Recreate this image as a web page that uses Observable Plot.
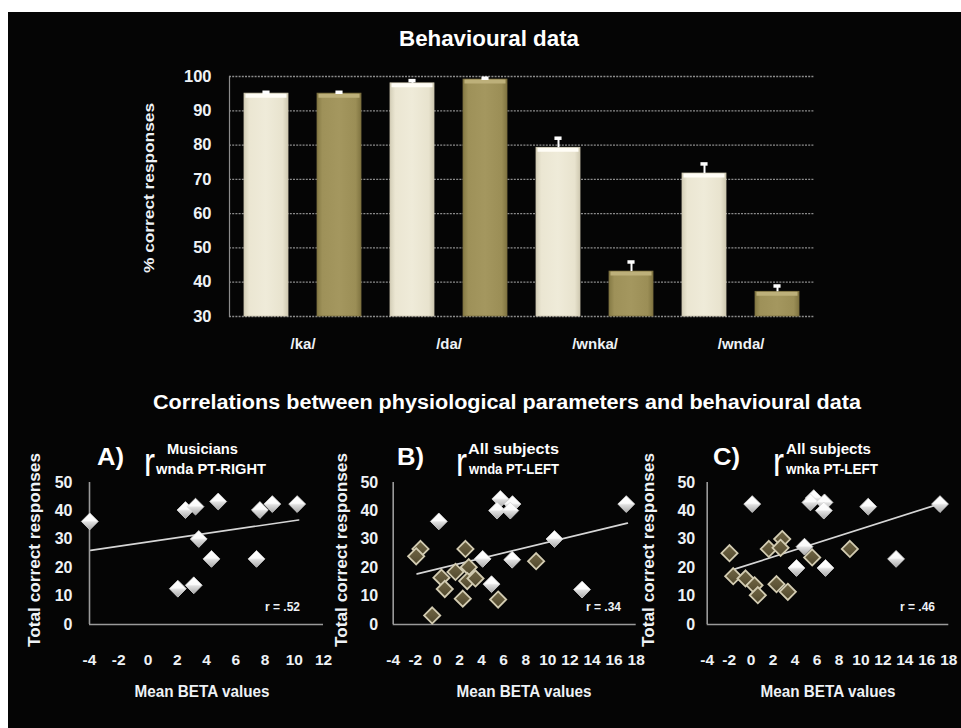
<!DOCTYPE html>
<html><head><meta charset="utf-8">
<script src="https://cdn.jsdelivr.net/npm/d3@7"></script>
<script src="https://cdn.jsdelivr.net/npm/@observablehq/plot@0.6"></script>
<style>
html,body{margin:0;padding:0;background:#fff;}
#wrap{position:relative;width:961px;height:728px;overflow:hidden;background:#fff;}
#bg{position:absolute;left:8px;top:12px;right:0;bottom:0;background:#050505;}
.panel{position:absolute;}
.panel svg{overflow:visible;}
#overlay{position:absolute;left:0;top:0;pointer-events:none;}
</style></head><body><div id="wrap"><div id="bg"></div></div>
<script>
// ---------- data ----------
const syllables = ["/ka/", "/da/", "/wnka/", "/wnda/"];
const groups = ["Musicians", "Non-musicians"];
const musiciansPct = [95.0, 98.0, 79.2, 71.7];
const musiciansErr = [0.4, 0.8, 2.8, 2.8];
const nonMusiciansPct = [95.0, 99.1, 43.1, 37.2];
const nonMusiciansErr = [0.4, 0.4, 2.8, 1.7];
const pctTicks = [30, 40, 50, 60, 70, 80, 90, 100];

const countTicks = [0, 10, 20, 30, 40, 50];
const betaTicksA = [-4, -2, 0, 2, 4, 6, 8, 10, 12];
const betaTicksBC = [-4, -2, 0, 2, 4, 6, 8, 10, 12, 14, 16, 18];

// Panel A: musicians, r wnda PT-RIGHT
const aMusX = [-3.98, 2.56, 3.25, 4.8, 3.47, 4.34, 2.04, 3.13, 7.42, 7.65, 8.5, 10.2];
const aMusY = [36.3, 40.3, 41.5, 43.3, 30.1, 23.1, 12.6, 13.8, 23.1, 40.3, 42.4, 42.4];
const aLineX = [-3.93, 10.3];
const aLineY = [26.1, 36.8];

// Panel B: all subjects, r wnda PT-LEFT
const bMusX = [0.13, 5.7, 5.4, 6.8, 6.6, 17.1, 10.6, 4.1, 6.77, 4.9, 13.1];
const bMusY = [36.3, 44.2, 40.1, 42.4, 40.1, 42.4, 30.1, 23.1, 22.8, 14.2, 12.3];
const bNonX = [-1.53, -1.92, 2.54, 2.84, 1.64, 0.37, 0.67, 2.7, 3.45, 2.3, 5.5, -0.47, 8.94];
const bNonY = [26.6, 24.0, 26.6, 20.2, 18.5, 16.5, 12.5, 15.3, 16.2, 9.1, 8.8, 3.2, 22.3];
const bLineX = [-1.83, 17.2];
const bLineY = [17.8, 35.7];

// Panel C: all subjects, r wnka PT-LEFT
const cMusX = [0.1, 5.7, 5.4, 6.68, 6.62, 10.66, 17.2, 4.86, 4.13, 6.77, 13.2];
const cMusY = [42.4, 44.5, 43.0, 43.0, 40.1, 41.5, 42.4, 27.4, 19.9, 19.9, 23.1];
const cNonX = [-1.97, 1.61, 2.83, 2.68, 5.56, 8.99, -1.63, -0.51, 0.31, 0.61, 2.31, 3.34];
const cNonY = [25.1, 26.6, 30.1, 27.0, 23.6, 26.6, 17.0, 16.2, 13.8, 10.3, 14.2, 11.5];
const cLineX = [-1.58, 17.1];
const cLineY = [19.4, 42.4];

// ---------- styles ----------
const FONT = '"Liberation Sans", Arial, sans-serif';
const TXT = "#eef2f6";
const wrap = document.getElementById("wrap");
const fmt = d => String(d); // plain hyphen-minus like the reference

function place(node, left, top) {
  const d = document.createElement("div");
  d.className = "panel";
  d.style.left = left + "px";
  d.style.top = top + "px";
  d.appendChild(node);
  wrap.appendChild(d);
}

// ---------- bar chart ----------
const bars = syllables.flatMap((s, i) => [
  {key: s + "|M", syl: s, grp: groups[0], v: musiciansPct[i], e: musiciansErr[i]},
  {key: s + "|N", syl: s, grp: groups[1], v: nonMusiciansPct[i], e: nonMusiciansErr[i]}
]);
const B = {left: 130, top: 60, width: 720, height: 310, ml: 99, mr: 36, mt: 16, mb: 54};
const step = (B.width - B.ml - B.mr) / bars.length;
const bw = step * 0.6;
const isM = d => d.grp === groups[0];
const isN = d => d.grp === groups[1];

const barPlot = Plot.plot({
  width: B.width, height: B.height,
  marginLeft: B.ml, marginRight: B.mr, marginTop: B.mt, marginBottom: B.mb,
  style: {background: "transparent", color: TXT, fontFamily: FONT},
  x: {domain: bars.map(d => d.key), paddingInner: 0.4, paddingOuter: 0.2},
  y: {domain: [pctTicks[0], pctTicks[pctTicks.length - 1]]},
  marks: [
    Plot.gridY(pctTicks, {stroke: "#8c8c8c", strokeOpacity: 1, strokeDasharray: "2,1.2", strokeWidth: 1.3}),
    Plot.frame({anchor: "left", stroke: "#8c8c8c", strokeWidth: 1.2}),
    Plot.axisY({ticks: pctTicks, tickFormat: fmt, tickSize: 0, tickPadding: 18, fontSize: 16.5, fontWeight: "bold", label: null}),
    Plot.axisX({ticks: bars.filter(isM).map(d => d.key), tickFormat: d => d.split("|")[0],
      dx: step / 2, tickSize: 0, tickPadding: 22, fontSize: 15, fontWeight: "bold", label: null}),
    Plot.barY(bars, {filter: isM, x: "key", y1: pctTicks[0], y2: "v", fill: "url(#gBarLight)", stroke: "#cfc9b2", strokeWidth: 0.8}),
    Plot.barY(bars, {filter: isN, x: "key", y1: pctTicks[0], y2: "v", fill: "url(#gBarDark)", stroke: "#7d7140", strokeWidth: 0.8}),
    Plot.tickY(bars, {filter: isM, x: "key", y: "v", stroke: "#fffdf6", strokeWidth: 4, dy: 2, insetLeft: 1.5, insetRight: 1.5}),
    Plot.tickY(bars, {filter: isN, x: "key", y: "v", stroke: "#bdb07a", strokeWidth: 4, dy: 2, insetLeft: 1.5, insetRight: 1.5}),
    Plot.ruleX(bars, {x: "key", y1: "v", y2: d => d.v + d.e, stroke: "#ffffff", strokeWidth: 2}),
    Plot.tickY(bars, {x: "key", y: d => d.v + d.e, stroke: "#ffffff", strokeWidth: 3.5,
      insetLeft: bw / 2 - 3.5, insetRight: bw / 2 - 3.5})
  ]
});
place(barPlot, B.left, B.top);

// ---------- scatter panels ----------
function pts(xs, ys) { return xs.map((x, i) => ({x, y: ys[i]})); }

function scatter(cfg) {
  const marks = [
    Plot.line(pts(cfg.lineX, cfg.lineY), {x: "x", y: "y", stroke: "#d6d6d6", strokeWidth: 1.7}),
    Plot.ruleY([countTicks[0]], {stroke: "#9a9a9a", strokeWidth: 1.6}),
    Plot.ruleX([cfg.xTicks[0]], {stroke: "#9a9a9a", strokeWidth: 1.6}),
    Plot.axisY({ticks: countTicks, tickFormat: fmt, tickSize: 0, tickPadding: cfg.yPad, fontSize: 16, fontWeight: "bold", label: null}),
    Plot.axisX({ticks: cfg.xTicks, tickFormat: fmt, tickSize: 0, tickPadding: 29, fontSize: 15.5, fontWeight: "bold", label: null})
  ];
  if (cfg.nonX) marks.push(Plot.dot(pts(cfg.nonX, cfg.nonY), {x: "x", y: "y", symbol: "diamond2", r: 7.3,
    fill: "url(#gDark)", stroke: "#d3ccb2", strokeWidth: 1.8}));
  marks.push(Plot.dot(pts(cfg.musX, cfg.musY), {x: "x", y: "y", symbol: "diamond2", r: 7.6,
    fill: "url(#gWhite)", stroke: "#d9d9d9", strokeWidth: 0.8}));
  return Plot.plot({
    width: cfg.width, height: 290,
    marginLeft: cfg.ml, marginRight: cfg.mr, marginTop: 52, marginBottom: 96,
    style: {background: "transparent", color: TXT, fontFamily: FONT},
    x: {domain: [cfg.xTicks[0], cfg.xTicks[cfg.xTicks.length - 1]]},
    y: {domain: [countTicks[0], countTicks[countTicks.length - 1]]},
    marks
  });
}
place(scatter({width: 330, ml: 89, mr: 7, yPad: 17, xTicks: betaTicksA,
  musX: aMusX, musY: aMusY, lineX: aLineX, lineY: aLineY}), 0, 430);
place(scatter({width: 330, ml: 82.7, mr: 4.3, yPad: 15, xTicks: betaTicksBC,
  musX: bMusX, musY: bMusY, nonX: bNonX, nonY: bNonY, lineX: bLineX, lineY: bLineY}), 310, 430);
place(scatter({width: 341, ml: 86.7, mr: 12.7, yPad: 12, xTicks: betaTicksBC,
  musX: cMusX, musY: cMusY, nonX: cNonX, nonY: cNonY, lineX: cLineX, lineY: cLineY}), 620, 430);

// ---------- overlay: gradients + titles ----------
const ov = d3.select(wrap).append("svg").attr("id", "overlay").attr("width", 961).attr("height", 728);
const defs = ov.append("defs");
function grad(id, vertical, stops) {
  const g = defs.append("linearGradient").attr("id", id)
    .attr("x1", 0).attr("y1", 0).attr("x2", vertical ? 0 : 1).attr("y2", vertical ? 1 : 0);
  stops.forEach(([o, c]) => g.append("stop").attr("offset", o).attr("stop-color", c));
}
grad("gBarLight", false, [[0, "#d4cfb8"], [0.12, "#ebe6d2"], [0.5, "#efebd9"], [0.88, "#e8e3ce"], [1, "#cfc9b1"]]);
grad("gBarDark", false, [[0, "#857a45"], [0.12, "#9e9159"], [0.5, "#a4975f"], [0.88, "#9b8e56"], [1, "#807441"]]);
grad("gWhite", true, [[0, "#ffffff"], [0.45, "#fbfbfb"], [0.55, "#dedede"], [1, "#a8a8a8"]]);
grad("gDark", true, [[0, "#6e6443"], [0.5, "#62583a"], [1, "#4f472d"]]);

function txt(o) {
  const t = ov.append("text")
    .attr("x", o.x).attr("y", o.y)
    .attr("fill", o.fill || "#ffffff")
    .attr("font-family", FONT)
    .attr("font-size", o.size)
    .attr("font-weight", o.weight || "bold")
    .attr("text-anchor", o.anchor || "start")
    .text(o.text);
  if (o.len) t.attr("textLength", o.len).attr("lengthAdjust", "spacingAndGlyphs");
  if (o.rotate) t.attr("transform", `rotate(${o.rotate},${o.x},${o.y})`).attr("dominant-baseline", "central");
  return t;
}

txt({x: 489, y: 46, text: "Behavioural data", size: 22, anchor: "middle", len: 180});
txt({x: 507, y: 409, text: "Correlations between physiological parameters and behavioural data", size: 20, anchor: "middle", len: 708});
txt({x: 148, y: 188, text: "% correct responses", size: 15, anchor: "middle", len: 170, rotate: -90, fill: TXT});

const panels = [
  {letter: "A)", lx: 97, sup: "Musicians", supX: 167, supLen: 71, rX: 144, sub: "wnda PT-RIGHT", subX: 156, subLen: 110, yTitleX: 34, axisCx: 202, rText: "r = .52", rRight: 300},
  {letter: "B)", lx: 397, sup: "All subjects", supX: 468, supLen: 91, rX: 456, sub: "wnda PT-LEFT", subX: 469, subLen: 90, yTitleX: 341, axisCx: 524, rText: "r = .34", rRight: 621},
  {letter: "C)", lx: 713, sup: "All subjects", supX: 786, supLen: 85, rX: 773, sub: "wnka PT-LEFT", subX: 786, subLen: 92, yTitleX: 648, axisCx: 828, rText: "r = .46", rRight: 935}
];
panels.forEach(p => {
  txt({x: p.lx, y: 465, text: p.letter, size: 23, len: 27});
  txt({x: p.rX, y: 476, text: "r", size: 40, weight: "normal", len: 11});
  txt({x: p.supX, y: 454, text: p.sup, size: 15, len: p.supLen});
  txt({x: p.subX, y: 474, text: p.sub, size: 14, len: p.subLen});
  txt({x: p.yTitleX, y: 550, text: "Total correct responses", size: 17, anchor: "middle", len: 194, rotate: -90, fill: TXT});
  txt({x: p.axisCx, y: 697, text: "Mean BETA values", size: 17, anchor: "middle", len: 135, fill: TXT});
  txt({x: p.rRight, y: 611, text: p.rText, size: 13, anchor: "end", len: 35, fill: TXT});
});
</script>
</body></html>
